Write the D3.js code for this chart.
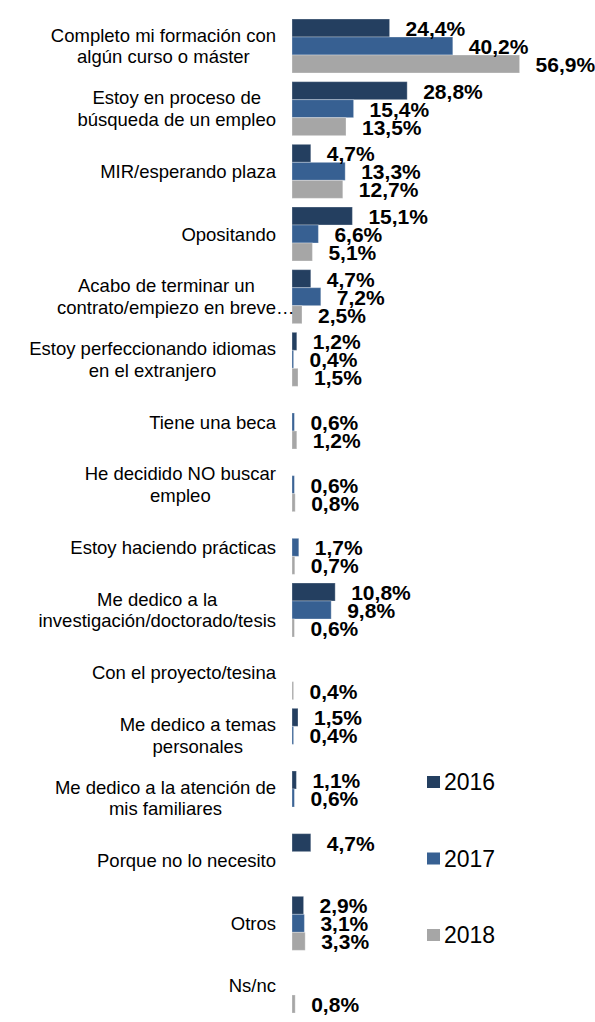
<!DOCTYPE html>
<html>
<head>
<meta charset="utf-8">
<script src="https://cdn.jsdelivr.net/npm/d3@7"></script>
<style>
  html, body { margin: 0; padding: 0; background: #fff; }
  svg { display: block; font-family: "Liberation Sans", Arial, sans-serif; }
</style>
</head>
<body>
<svg id="chart" width="595" height="1022"></svg>
<script>
// Situación actual de los titulados, por año de encuesta (%)
const categories = [
  "Completo mi formación con\nalgún curso o máster",
  "Estoy en proceso de\nbúsqueda de un empleo",
  "MIR/esperando plaza",
  "Opositando",
  "Acabo de terminar un\ncontrato/empiezo en breve…",
  "Estoy perfeccionando idiomas\nen el extranjero",
  "Tiene una beca",
  "He decidido NO buscar\nempleo",
  "Estoy haciendo prácticas",
  "Me dedico a la\ninvestigación/doctorado/tesis",
  "Con el proyecto/tesina",
  "Me dedico a temas\npersonales",
  "Me dedico a la atención de\nmis familiares",
  "Porque no lo necesito",
  "Otros",
  "Ns/nc"
];
const years = ["2016", "2017", "2018"];
const v2016 = [24.4, 28.8, 4.7, 15.1, 4.7, 1.2, null, null, null, 10.8, null, 1.5, 1.1, 4.7, 2.9, null];
const v2017 = [40.2, 15.4, 13.3, 6.6, 7.2, 0.4, 0.6, 0.6, 1.7, 9.8, null, 0.4, 0.6, null, 3.1, null];
const v2018 = [56.9, 13.5, 12.7, 5.1, 2.5, 1.5, 1.2, 0.8, 0.7, 0.6, 0.4, null, null, null, 3.3, 0.8];
const colors = ["#243f60", "#376092", "#a6a6a6"];

const series = [v2016, v2017, v2018];
const svg = d3.select("#chart");

const y = d3.scaleBand()
  .domain(categories)
  .range([14.67, 1017.33])
  .paddingInner(0.1383)
  .paddingOuter(0.0692);

const ySub = d3.scaleBand()
  .domain(years)
  .range([0, y.bandwidth()]);

const x = d3.scaleLinear().domain([0, 60]).range([292, 532]);
const color = d3.scaleOrdinal().domain(years).range(colors);
const fmt = v => d3.format(".1f")(v).replace(".", ",") + "%";

// flatten to one record per drawn bar
const rows = [];
categories.forEach((c, i) => {
  years.forEach((yr, k) => {
    const v = series[k][i];
    if (v !== null) rows.push({ cat: c, year: yr, value: v });
  });
});

const groups = svg.append("g");

groups.selectAll("rect.bar")
  .data(rows)
  .join("rect")
  .attr("class", "bar")
  .attr("x", x(0))
  .attr("y", d => y(d.cat) + ySub(d.year))
  .attr("width", d => x(d.value) - x(0))
  .attr("height", ySub.bandwidth())
  .attr("fill", d => color(d.year))
  .attr("stroke", "rgba(255,255,255,0.3)")
  .attr("stroke-width", 1);

groups.selectAll("text.val")
  .data(rows)
  .join("text")
  .attr("class", "val")
  .attr("x", d => x(d.value) + 16)
  .attr("y", d => y(d.cat) + ySub(d.year) + ySub.bandwidth() / 2 + 8)
  .attr("font-size", 21)
  .attr("font-weight", "bold")
  .attr("fill", "#000")
  .text(d => fmt(d.value));

// category labels: lines centred on each other, block right-aligned
const labelRight = 276;
const lineGap = 21.5;
categories.forEach(c => {
  const lines = c.split("\n");
  const cy = y(c) + y.bandwidth() / 2;
  const g = svg.append("g");
  const texts = lines.map((ln, j) => g.append("text")
    .attr("y", cy + (j - (lines.length - 1) / 2) * lineGap + 6.5)
    .attr("font-size", 18.5)
    .attr("fill", "#000")
    .text(ln));
  const coreW = texts.map(t => {
    const s = t.text();
    const node = t.node();
    return s.endsWith("…") ? node.getSubStringLength(0, s.length - 1) : node.getComputedTextLength();
  });
  const blockW = d3.max(coreW);
  const mid = labelRight - blockW / 2;
  texts.forEach((t, j) => t.attr("x", mid - coreW[j] / 2));
});

// legend
const legend = svg.append("g")
  .selectAll("g")
  .data(years)
  .join("g")
  .attr("transform", (d, i) => `translate(427, ${782 + i * 76.5})`);

legend.append("rect")
  .attr("x", 0)
  .attr("y", -6)
  .attr("width", 13)
  .attr("height", 12)
  .attr("fill", d => color(d));

legend.append("text")
  .attr("x", 17)
  .attr("y", 8.3)
  .attr("font-size", 23)
  .attr("fill", "#000")
  .text(d => d);
</script>
</body>
</html>
